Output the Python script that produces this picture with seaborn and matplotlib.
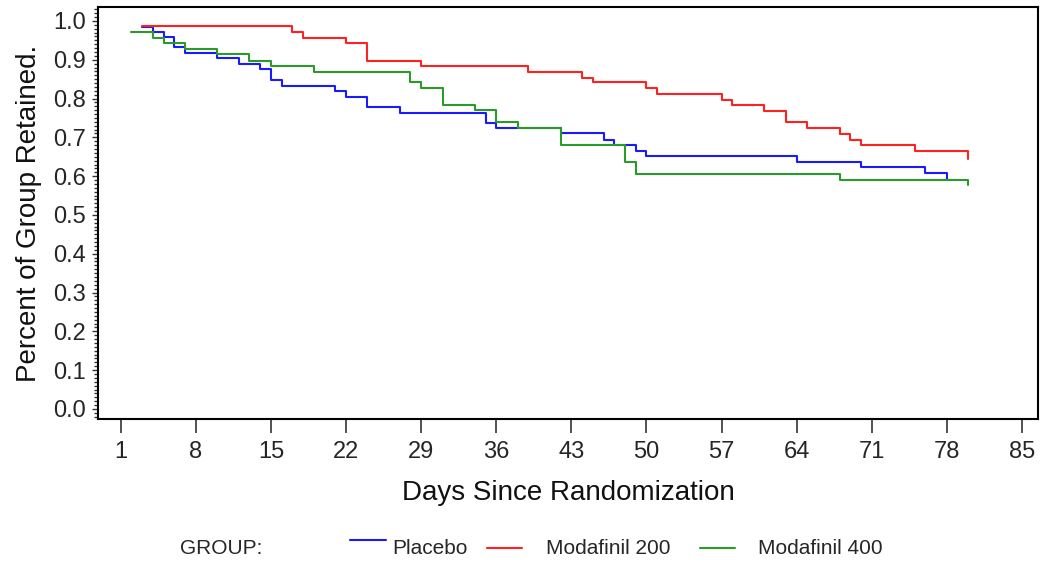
import numpy as np
import pandas as pd
import seaborn as sns
import matplotlib.pyplot as plt
from matplotlib.lines import Line2D
from matplotlib.ticker import MultipleLocator

# Kaplan-Meier style retention steps
placebo_days = [3, 4, 5, 6, 7, 10, 12, 14, 15, 16, 21, 22, 24, 27, 35, 36, 42, 46, 47, 49, 50, 64, 70, 76, 78]
placebo_vals = [0.985, 0.971, 0.958, 0.932, 0.918, 0.904, 0.889, 0.875, 0.848, 0.832, 0.819, 0.804,
                0.777, 0.764, 0.736, 0.723, 0.710, 0.693, 0.680, 0.665, 0.652, 0.636, 0.624, 0.608, 0.591]

mod200_days = [3, 17, 18, 22, 24, 29, 39, 44, 45, 50, 51, 57, 58, 61, 63, 65, 68, 69, 70, 75, 80]
mod200_vals = [0.987, 0.971, 0.957, 0.942, 0.897, 0.885, 0.869, 0.854, 0.843, 0.826, 0.811,
               0.796, 0.783, 0.768, 0.740, 0.725, 0.708, 0.693, 0.680, 0.665, 0.645]

mod400_days = [2, 4, 5, 7, 10, 13, 15, 19, 28, 29, 31, 34, 36, 38, 42, 48, 49, 68, 80]
mod400_vals = [0.971, 0.957, 0.943, 0.928, 0.915, 0.897, 0.885, 0.869, 0.843, 0.826, 0.783,
               0.770, 0.740, 0.725, 0.680, 0.636, 0.606, 0.591, 0.576]

groups = ["Placebo", "Modafinil 200", "Modafinil 400"]
colors = ["#1a1aff", "#ff2020", "#2a9a2a"]
x_ticks = list(range(1, 86, 7))
y_ticks = [0.0, 0.1, 0.2, 0.3, 0.4, 0.5, 0.6, 0.7, 0.8, 0.9, 1.0]

df = pd.concat([
    pd.DataFrame({"day": placebo_days, "retained": placebo_vals, "group": groups[0]}),
    pd.DataFrame({"day": mod200_days, "retained": mod200_vals, "group": groups[1]}),
    pd.DataFrame({"day": mod400_days, "retained": mod400_vals, "group": groups[2]}),
])

sns.set_theme(style="white")
plt.rcParams["font.family"] = ["Liberation Sans", "DejaVu Sans"]

fig = plt.figure(figsize=(10.5, 5.64), dpi=100)
ax = fig.add_axes([98 / 1050, 1 - 419 / 564, 940 / 1050, 412 / 564])

sns.lineplot(data=df, x="day", y="retained", hue="group", hue_order=groups,
             palette=colors, drawstyle="steps-post", estimator=None,
             linewidth=1.5, legend=False, ax=ax)

ax.set_xlim(-1.12, 86.5)
ax.set_ylim(-0.026, 1.036)
ax.set_xticks(x_ticks)
ax.set_yticks(y_ticks)
ax.set_yticklabels([f"{v:.1f}" for v in y_ticks])
ax.yaxis.set_minor_locator(MultipleLocator(0.01))

for s in ax.spines.values():
    s.set_visible(True)
    s.set_color("black")
    s.set_linewidth(1.5)

ax.tick_params(axis="x", which="major", direction="out", length=10, width=1.2,
               color="#333333", labelsize=17, pad=6, bottom=True)
ax.tick_params(axis="y", which="major", direction="out", length=4.5, width=1.0,
               color="#333333", labelsize=17, pad=4, left=True)
ax.tick_params(axis="y", which="minor", direction="out", length=3, width=1.0,
               color="#333333", left=True)

ax.set_xlabel("Days Since Randomization", fontsize=20, labelpad=12, color="#111111")
ax.set_ylabel("Percent of Group Retained.", fontsize=20, labelpad=8, color="#111111")

# legend row at the bottom
fy = 1 - 549 / 564
fig.text(180 / 1050, fy, "GROUP:", fontsize=15, va="center", ha="left")
leg_items = [(350, 386, 540, 392), (487, 522, 548, 546), (700, 735, 548, 758)]
for (x0, x1, ly, tx), name, c in zip(leg_items, groups, colors):
    fig.add_artist(Line2D([x0 / 1050, x1 / 1050], [1 - ly / 564, 1 - ly / 564],
                          color=c, linewidth=1.5, transform=fig.transFigure))
    fig.text(tx / 1050, fy, name, fontsize=15, va="center", ha="left")

fig.savefig("out.png", dpi=100)
